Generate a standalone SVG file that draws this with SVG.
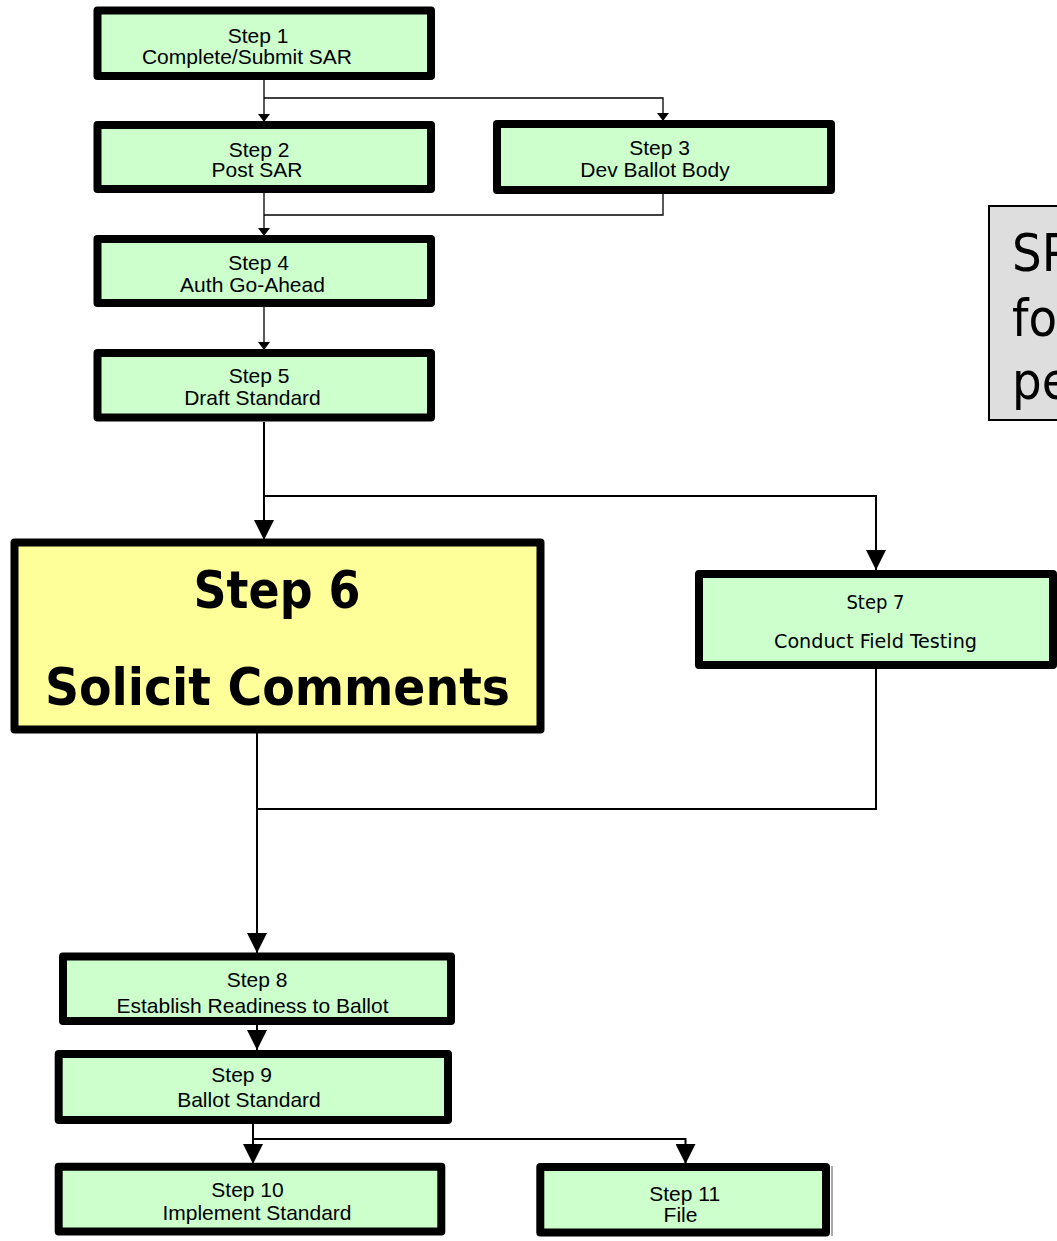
<svg xmlns="http://www.w3.org/2000/svg" width="1057" height="1241" viewBox="0 0 1057 1241">
  <style>
    .box { fill: #CCFFCC; stroke: #000; stroke-width: 8; stroke-linejoin: round; }
    .big { fill: #FFFF99; stroke: #000; stroke-width: 8; stroke-linejoin: round; }
    .note { fill: #DEDEDE; stroke: #000; stroke-width: 2; }
    .lbl { font-family: "Liberation Sans", Arial, sans-serif; font-size: 21px; fill: #000; text-anchor: middle; }
    .lbl7 { font-family: "DejaVu Sans Condensed", "DejaVu Sans", sans-serif; font-stretch: condensed; font-size: 20px; fill: #000; text-anchor: middle; }
    .lbl6 { font-family: "DejaVu Sans Condensed", "DejaVu Sans", sans-serif; font-stretch: condensed; font-weight: bold; font-size: 51px; fill: #000; text-anchor: middle; }
    .notetxt { font-family: "DejaVu Sans Condensed", "DejaVu Sans", sans-serif; font-stretch: condensed; font-size: 52px; fill: #000; }
    .thin { fill: none; stroke: #000; stroke-width: 1.3; }
    .wire { fill: none; stroke: #000; stroke-width: 2; }
  </style>
  <defs>
    <marker id="arrowS" markerUnits="userSpaceOnUse" markerWidth="8" markerHeight="12" viewBox="0 0 8 12" refX="8" refY="6" orient="auto">
      <path d="M0,0 L8,6 L0,12 z" fill="#000"/>
    </marker>
    <marker id="arrowL" markerUnits="userSpaceOnUse" markerWidth="20" markerHeight="20" viewBox="0 0 20 20" refX="20" refY="10" orient="auto">
      <path d="M0,0 L20,10 L0,20 z" fill="#000"/>
    </marker>
  </defs>

  <!-- connectors -->
  <g id="connectors">
    <path class="thin" d="M264,80 V122" marker-end="url(#arrowS)"/>
    <path class="thin" d="M264,98 H663 V121" marker-end="url(#arrowS)"/>
    <path class="thin" d="M663,193 V215 H264"/>
    <path class="thin" d="M264,193 V236" marker-end="url(#arrowS)"/>
    <path class="thin" d="M264,307 V350" marker-end="url(#arrowS)"/>
    <path class="wire" d="M264,422 V540" marker-end="url(#arrowL)"/>
    <path class="wire" d="M264,496 H876 V570" marker-end="url(#arrowL)"/>
    <path class="wire" d="M876,669 V809 H257"/>
    <path class="wire" d="M257,733 V953" marker-end="url(#arrowL)"/>
    <path class="wire" d="M257,1025 V1050" marker-end="url(#arrowL)"/>
    <path class="wire" d="M253,1124 V1164" marker-end="url(#arrowL)"/>
    <path class="wire" d="M253,1139 H685.5 V1164" marker-end="url(#arrowL)"/>
  </g>

  <g id="step1">
    <rect class="box" x="97.5" y="10.5" width="333.5" height="65.5"/>
    <text class="lbl" x="258" y="43">Step 1</text>
    <text class="lbl" x="247" y="64">Complete/Submit SAR</text>
  </g>
  <g id="step2">
    <rect class="box" x="97.5" y="125" width="333.5" height="64"/>
    <text class="lbl" x="259" y="157">Step 2</text>
    <text class="lbl" x="257" y="177">Post SAR</text>
  </g>
  <g id="step3">
    <rect class="box" x="497" y="124" width="334" height="66"/>
    <text class="lbl" x="659.5" y="155">Step 3</text>
    <text class="lbl" x="655" y="177">Dev Ballot Body</text>
  </g>
  <g id="step4">
    <rect class="box" x="97.5" y="239" width="333.5" height="64"/>
    <text class="lbl" x="258.5" y="270">Step 4</text>
    <text class="lbl" x="252.5" y="292">Auth Go-Ahead</text>
  </g>
  <g id="step5">
    <rect class="box" x="97.5" y="353" width="333.5" height="64.5"/>
    <text class="lbl" x="259" y="383">Step 5</text>
    <text class="lbl" x="252.5" y="405">Draft Standard</text>
  </g>

  <g id="note">
    <rect class="note" x="989" y="206" width="100" height="214"/>
    <text class="notetxt" x="1012" y="271">SP</text>
    <text class="notetxt" x="1012" y="336">fo</text>
    <text class="notetxt" x="1012" y="399">pe</text>
  </g>

  <g id="step6">
    <rect class="big" x="14.5" y="542.5" width="526" height="187"/>
    <text class="lbl6" x="277" y="608">Step 6</text>
    <text class="lbl6" x="277.5" y="705" textLength="465" lengthAdjust="spacingAndGlyphs">Solicit Comments</text>
  </g>
  <g id="step7">
    <rect class="box" x="699" y="574" width="354" height="91"/>
    <text class="lbl7" x="875.5" y="609">Step 7</text>
    <text class="lbl7" x="875.5" y="648" textLength="203" lengthAdjust="spacingAndGlyphs">Conduct Field Testing</text>
  </g>
  <g id="step8">
    <rect class="box" x="63" y="956.5" width="388" height="64.5"/>
    <text class="lbl" x="257" y="987">Step 8</text>
    <text class="lbl" x="252.5" y="1013">Establish Readiness to Ballot</text>
  </g>
  <g id="step9">
    <rect class="box" x="58.7" y="1054" width="389.3" height="66"/>
    <text class="lbl" x="241.7" y="1082">Step 9</text>
    <text class="lbl" x="249" y="1107">Ballot Standard</text>
  </g>
  <g id="step10">
    <rect class="box" x="58.7" y="1166.7" width="382.6" height="64.8"/>
    <text class="lbl" x="247.5" y="1197">Step 10</text>
    <text class="lbl" x="257" y="1220">Implement Standard</text>
  </g>
  <g id="step11">
    <rect class="box" x="540.3" y="1167" width="285.7" height="65.5"/>
    <line x1="832" y1="1166" x2="832" y2="1236" stroke="#555" stroke-width="1"/>
    <text class="lbl" x="684.7" y="1201">Step 11</text>
    <text class="lbl" x="680.5" y="1222">File</text>
  </g>
</svg>
